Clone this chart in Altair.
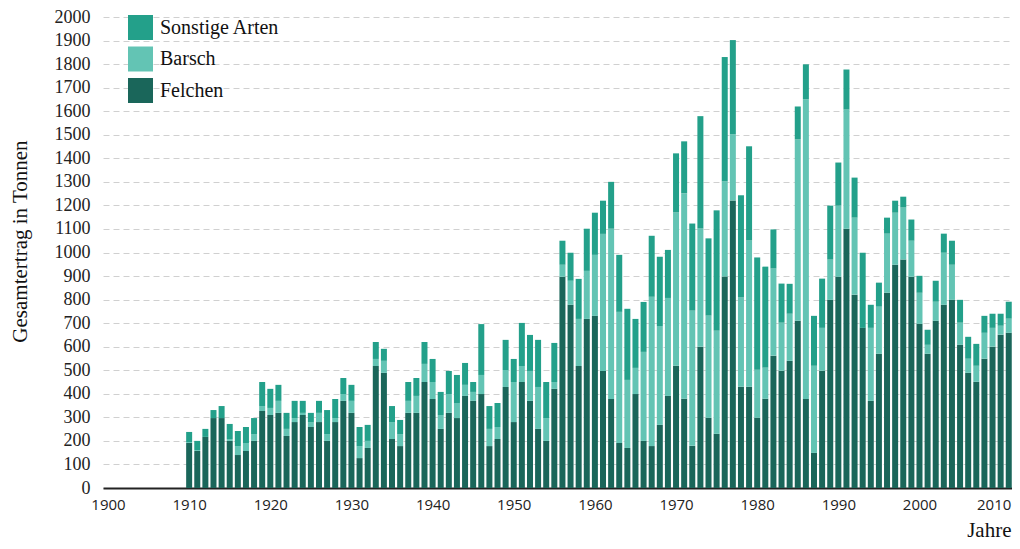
import altair as alt
import pandas as pd

years = list(range(1910, 2012))
felchen = [191, 157, 217, 297, 297, 200, 140, 157, 200, 327,
           310, 319, 221, 280, 310, 259, 280, 200, 280, 370,
           319, 127, 170, 518, 489, 208, 178, 319, 319, 450,
           378, 251, 319, 297, 391, 370, 399, 178, 208, 429,
           280, 450, 370, 251, 200, 421, 897, 778, 518, 718,
           731, 497, 378, 191, 170, 399, 200, 178, 268, 391,
           519, 379, 179, 600, 298, 230, 898, 1221, 430, 430,
           298, 379, 562, 498, 540, 710, 378, 149, 498, 799,
           897, 1101, 821, 680, 370, 570, 829, 948, 970, 897,
           697, 570, 710, 778, 799, 608, 489, 451, 549, 600,
           651, 659]
barsch = [4, 4, 0, 0, 0, 8, 38, 34, 29, 21,
          30, 51, 30, 17, 9, 21, 39, 29, 17, 29,
          51, 51, 30, 30, 51, 72, 51, 51, 72, 77,
          72, 59, 80, 64, 47, 38, 81, 73, 51, 72,
          170, 68, 127, 178, 97, 29, 51, 102, 200, 204,
          259, 582, 723, 557, 289, 111, 378, 634, 420, 416,
          651, 872, 574, 502, 434, 438, 404, 281, 379, 621,
          204, 132, 370, 204, 200, 770, 1272, 370, 182, 171,
          302, 506, 327, 0, 310, 200, 251, 221, 221, 153,
          132, 38, 81, 221, 149, 94, 60, 68, 110, 80,
          38, 60]
sonstige = [43, 39, 34, 34, 51, 64, 64, 68, 68, 102,
            81, 68, 68, 73, 51, 39, 51, 102, 81, 68,
            68, 81, 68, 72, 51, 68, 60, 80, 76, 93,
            98, 98, 98, 119, 93, 42, 216, 97, 102, 128,
            98, 183, 153, 200, 153, 166, 102, 119, 170, 179,
            179, 141, 199, 242, 302, 208, 212, 259, 294, 204,
            251, 221, 370, 477, 328, 511, 528, 400, 434, 400,
            477, 429, 166, 166, 127, 140, 149, 212, 209, 229,
            183, 170, 170, 319, 98, 102, 68, 51, 46, 90,
            72, 64, 89, 81, 102, 97, 93, 93, 72, 60,
            51, 72]

series = ["Sonstige Arten", "Barsch", "Felchen"]
colors = ["#23a08a", "#63c4b4", "#1a665a"]
x_ticks = list(range(1900, 2011, 10))
y_ticks = list(range(0, 2001, 100))

rows = []
for i, yr in enumerate(years):
    for name, vals, order in (("Felchen", felchen, 0), ("Barsch", barsch, 1),
                              ("Sonstige Arten", sonstige, 2)):
        rows.append({"Jahr": yr, "Art": name, "Tonnen": vals[i], "ord": order})
df = pd.DataFrame(rows)

serif = "Liberation Serif"

chart = alt.Chart(df).mark_bar(size=6).encode(
    x=alt.X("Jahr:Q",
            scale=alt.Scale(domain=[1899.384, 2011.4], nice=False, zero=False, padding=0),
            axis=alt.Axis(values=x_ticks, format="d", title="Jahre", grid=False,
                          ticks=False, domainColor="#222222", domainWidth=2,
                          labelFont="Open Sans", labelFontSize=15, labelColor="#222222",
                          labelPadding=9, labelFlush=False,
                          labelOffset={"condition": {"test": "datum.value >= 2010", "value": -7},
                                       "value": 0},
                          titleFont=serif, titleFontSize=21, titleFontWeight="normal",
                          titleColor="#111111", titleAnchor="end", titleAlign="right",
                          titleX=908, titleY=52, titleBaseline="bottom")),
    y=alt.Y("Tonnen:Q", stack="zero",
            scale=alt.Scale(domain=[0, 2000], nice=False),
            axis=alt.Axis(values=y_ticks, format="d", title="Gesamtertrag in Tonnen",
                          domain=False, ticks=False, grid=True, gridDash=[6, 4],
                          gridColor="#d0d0d0", gridWidth=1, labelFont=serif,
                          labelFontSize=18, labelColor="#222222", labelPadding=13,
                          titleFont=serif, titleFontSize=21, titleFontWeight="normal",
                          titleColor="#111111", titlePadding=24, titleY=224)),
    color=alt.Color("Art:N", scale=alt.Scale(domain=series, range=colors),
                    legend=alt.Legend(title=None, orient="none", legendX=25, legendY=-2,
                                      symbolType="square", symbolSize=625,
                                      symbolStrokeWidth=0, symbolOpacity=1,
                                      labelFont=serif, labelFontSize=20,
                                      labelColor="#111111", labelOffset=7,
                                      rowPadding=6.5)),
    order=alt.Order("ord:Q"),
).properties(
    width=909,
    height=471,
    autosize=alt.AutoSizeParams(type="none"),
    padding={"left": 95, "top": 9, "right": 0, "bottom": 53},
).configure_view(stroke=None)

chart.save("out.html", embed_options={"renderer": "svg", "actions": False})
